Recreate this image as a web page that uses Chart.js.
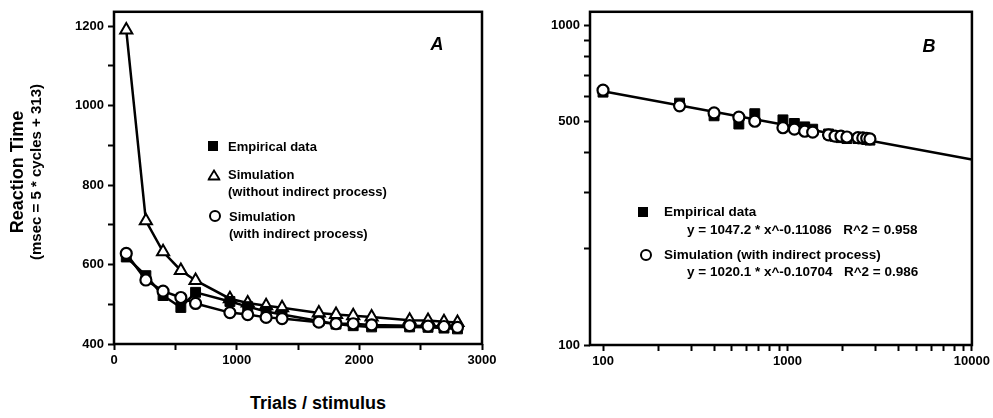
<!DOCTYPE html>
<html>
<head>
<meta charset="utf-8">
<script src="https://cdn.jsdelivr.net/npm/chart.js@4.4.1/dist/chart.umd.min.js"></script>
<style>
  body { margin: 0; background: #fff; width: 993px; height: 418px; overflow: hidden; position: relative; font-family: "Liberation Sans", Arial, sans-serif; }
  canvas { position: absolute; top: 0; }
  .txt { position: absolute; white-space: pre; line-height: 1; font-weight: bold; color: #000; transform: translateY(-50%); }
  .vert { position: absolute; white-space: nowrap; line-height: 1; font-weight: bold; color: #000; transform: translate(-50%, -50%) rotate(-90deg); }
  .leg { font-size: 13px; }
  .legB { font-size: 13.5px; }
  .sq { position: absolute; width: 10px; height: 10px; background: #000; transform: translate(-50%, -50%); }
  .circ { position: absolute; width: 8px; height: 8px; border: 2px solid #000; border-radius: 50%; background: #fff; transform: translate(-50%, -50%); }
  .tri { position: absolute; transform: translate(-50%, -50%); }
  .panel { position: absolute; font-size: 18px; font-weight: bold; font-style: italic; line-height: 1; transform: translate(-50%, -50%); }
</style>
</head>
<body>
<canvas id="chartA" width="500" height="372" style="left:0px"></canvas>
<canvas id="chartB" width="473" height="372" style="left:520px"></canvas>

<div class="vert" style="left:17px; top:172px; font-size:18px;">Reaction Time</div>
<div class="vert" style="left:35px; top:172px; font-size:15px;">(msec = 5 * cycles + 313)</div>
<div class="txt" style="left:250px; top:403px; font-size:18px;">Trials / stimulus</div>

<div class="panel" style="left:437px; top:44px;">A</div>
<div class="panel" style="left:929px; top:46px;">B</div>

<!-- legend A -->
<div class="sq" style="left:213px; top:146px;"></div>
<div class="txt leg" style="left:228px; top:146px;">Empirical data</div>
<svg class="tri" style="left:214px; top:175px;" width="13" height="12"><polygon points="6.5,1.5 12,10.5 1,10.5" fill="#fff" stroke="#000" stroke-width="1.8"/></svg>
<div class="txt leg" style="left:228px; top:174px;">Simulation</div>
<div class="txt leg" style="left:228px; top:191px;">(without indirect process)</div>
<div class="circ" style="left:215px; top:216px;"></div>
<div class="txt leg" style="left:229px; top:216px;">Simulation</div>
<div class="txt leg" style="left:229px; top:233px;">(with indirect process)</div>

<!-- legend B -->
<div class="sq" style="left:643px; top:212px;"></div>
<div class="txt legB" style="left:664px; top:212px;">Empirical data</div>
<div class="txt legB" style="left:687px; top:230px;">y = 1047.2 * x^-0.11086   R^2 = 0.958</div>
<div class="circ" style="left:646px; top:255px;"></div>
<div class="txt legB" style="left:664px; top:255px;">Simulation (with indirect process)</div>
<div class="txt legB" style="left:687px; top:272px;">y = 1020.1 * x^-0.10704   R^2 = 0.986</div>

<script>
// datos
const trials = [100, 260, 400, 545, 665, 945, 1090, 1240, 1370, 1670, 1810, 1950, 2100, 2410, 2560, 2690, 2800];
const empirical = [619, 572, 522, 492, 530, 507, 494, 482, 474, 458, 450, 446, 443, 443, 442, 440, 438];
const simWithout = [1190, 710, 632, 585, 560, 514, 503, 496, 491, 478, 474, 471, 468, 460, 459, 456, 454];
const simWith = [628, 561, 533, 517, 502, 479, 474, 467, 464, 455, 451, 451, 448, 446, 445, 444, 442];

// linea de ajuste del panel B (extremos)
const fitX = [100, 10000];
const fitY = [623, 381];

const ticksAX = [0, 500, 1000, 1500, 2000, 2500, 3000];
const ticksAY = [400, 500, 600, 700, 800, 900, 1000, 1100, 1200];
const labelsAX = [0, 1000, 2000, 3000];
const labelsAY = [400, 600, 800, 1000, 1200];
const ticksBX = [100, 200, 300, 400, 500, 600, 700, 800, 900, 1000, 2000, 3000, 4000, 5000, 6000, 7000, 8000, 9000, 10000];
const ticksBY = [100, 200, 300, 400, 500, 600, 700, 800, 900, 1000];
const labelsBX = [100, 1000, 10000];
const labelsBY = [100, 500, 1000];

const toPoints = (xs, ys) => xs.map((x, i) => ({ x: x, y: ys[i] }));

const tickFont = { family: '"Liberation Sans", Arial, sans-serif', size: 13, weight: 'bold' };

const boxPlugin = {
    id: 'box',
    afterDraw(chart) {
        const { ctx, chartArea } = chart;
        ctx.save();
        ctx.strokeStyle = '#000';
        ctx.lineWidth = 2.5;
        ctx.strokeRect(chartArea.left, chartArea.top, chartArea.right - chartArea.left, chartArea.bottom - chartArea.top);
        ctx.restore();
    }
};

function makeAxis(type, min, max, tickList, labelList, size, isX) {
    return {
        type: type,
        min: min,
        max: max,
        border: { display: false },
        grid: { drawOnChartArea: false, drawTicks: true, tickLength: 6, tickColor: '#000', tickWidth: 2 },
        afterBuildTicks: scale => { scale.ticks = tickList.map(v => ({ value: v })); },
        afterFit: scale => { if (isX) scale.height = size; else scale.width = size; },
        ticks: {
            autoSkip: false,
            maxRotation: 0,
            color: '#000',
            font: tickFont,
            padding: isX ? 3 : 4,
            callback: v => labelList.includes(v) ? String(v) : ''
        }
    };
}

const baseOptions = {
    responsive: false,
    animation: false,
    devicePixelRatio: 1,
    plugins: { legend: { display: false }, tooltip: { enabled: false } }
};

new Chart(document.getElementById('chartA'), {
    type: 'scatter',
    data: {
        datasets: [
            {
                label: 'Simulation (with indirect process)',
                data: toPoints(trials, simWith),
                showLine: true, borderColor: '#000', borderWidth: 2.5,
                pointStyle: 'circle', pointRadius: 5.5, pointBorderWidth: 2.2,
                pointBackgroundColor: '#fff', pointBorderColor: '#000'
            },
            {
                label: 'Empirical data',
                data: toPoints(trials, empirical),
                showLine: true, borderColor: '#000', borderWidth: 2.5,
                pointStyle: 'rect', pointRadius: 7, pointBorderWidth: 1,
                pointBackgroundColor: '#000', pointBorderColor: '#000'
            },
            {
                label: 'Simulation (without indirect process)',
                data: toPoints(trials, simWithout),
                showLine: true, borderColor: '#000', borderWidth: 2.5,
                pointStyle: 'triangle', pointRadius: 7, pointBorderWidth: 2,
                pointBackgroundColor: '#fff', pointBorderColor: '#000'
            }
        ]
    },
    options: Object.assign({}, baseOptions, {
        layout: { padding: { top: 10, right: 18, left: 0, bottom: 0 } },
        scales: {
            x: makeAxis('linear', 0, 3000, ticksAX, labelsAX, 28, true),
            y: makeAxis('linear', 400, 1236, ticksAY, labelsAY, 114, false)
        }
    }),
    plugins: [boxPlugin]
});

new Chart(document.getElementById('chartB'), {
    type: 'scatter',
    data: {
        datasets: [
            {
                label: 'Simulation (with indirect process)',
                data: toPoints(trials, simWith),
                showLine: false,
                pointStyle: 'circle', pointRadius: 5.5, pointBorderWidth: 2.2,
                pointBackgroundColor: '#fff', pointBorderColor: '#000'
            },
            {
                label: 'Empirical data',
                data: toPoints(trials, empirical),
                showLine: false,
                pointStyle: 'rect', pointRadius: 7, pointBorderWidth: 1,
                pointBackgroundColor: '#000', pointBorderColor: '#000'
            },
            {
                label: 'Fit',
                data: toPoints(fitX, fitY),
                showLine: true, borderColor: '#000', borderWidth: 2.5,
                pointRadius: 0
            }
        ]
    },
    options: Object.assign({}, baseOptions, {
        layout: { padding: { top: 10, right: 20, left: 0, bottom: 0 } },
        scales: {
            x: makeAxis('logarithmic', 85, 10000, ticksBX, labelsBX, 27, true),
            y: makeAxis('logarithmic', 100, 1105, ticksBY, labelsBY, 70, false)
        }
    }),
    plugins: [boxPlugin]
});
</script>
</body>
</html>
